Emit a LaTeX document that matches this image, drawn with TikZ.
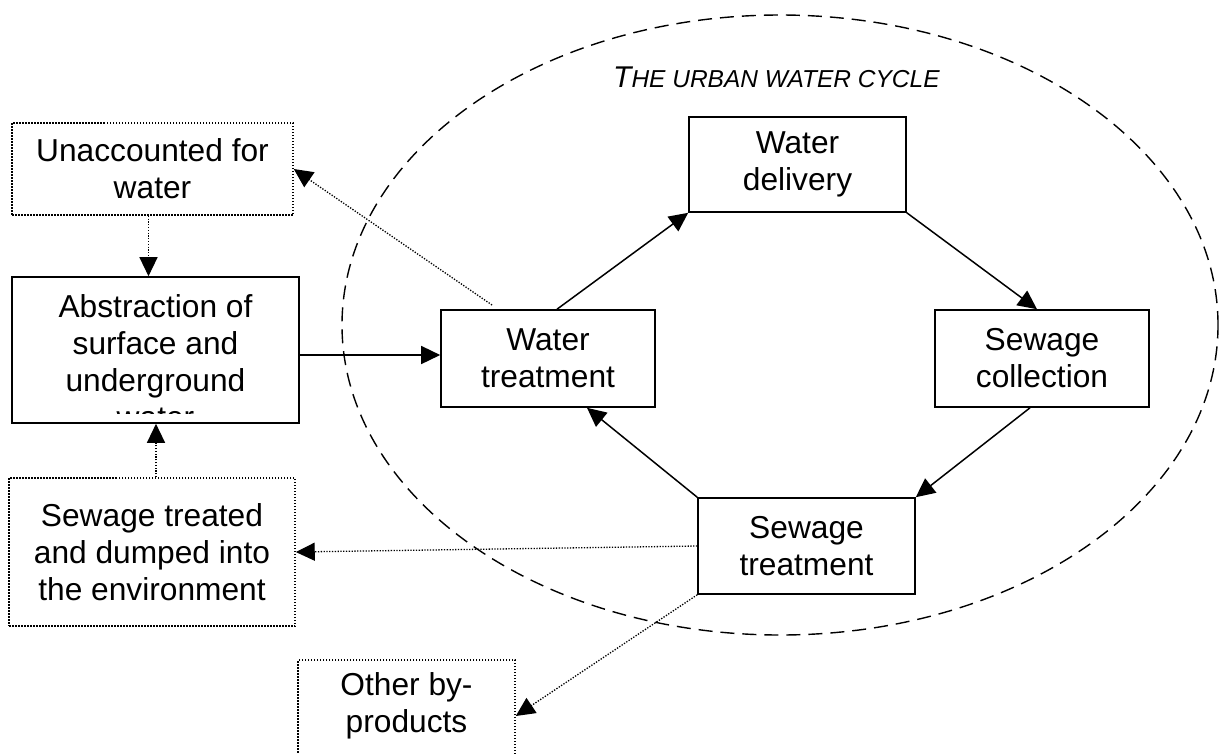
\documentclass[tikz,border=0pt]{standalone}
\usepackage{fontspec}
\setmainfont{Liberation Sans}
\usetikzlibrary{arrows.meta,shapes.geometric}
\begin{document}
\begin{tikzpicture}[x=1pt,y=-1pt,
  txt/.style={font=\fontsize{31.7}{37}\selectfont, align=center},
  box/.style={txt, draw, line width=1.6pt, inner sep=0pt},
  dbox/.style={txt, draw, line width=1.5pt, dash pattern=on 1.5pt off 1.5pt, inner sep=0pt},
  arr/.style={line width=1.5pt, -{Triangle[length=19pt,width=18pt]}},
  darr/.style={line width=1.3pt, dash pattern=on 1.3pt off 1.5pt, -{Triangle[length=19pt,width=18pt]}},
  ]
\clip (0,0) rectangle (1230,753);
\fill[white] (0,0) rectangle (1230,753);
% urban water cycle boundary
\node[ellipse, draw, line width=1.4pt, dash pattern=on 14pt off 8pt, inner sep=0pt,
      minimum width=876pt, minimum height=620pt] (cyc) at (780,325) {};
\node[anchor=base west, inner sep=0pt] (title) at (613,87)
  {\itshape\fontsize{30}{30}\selectfont T\fontsize{24.5}{24.5}\selectfont HE URBAN WATER CYCLE};
% cycle boxes
\node[box, minimum width=217pt, minimum height=95pt] (wd) at (797.5,164.5) {Water\\delivery};
\node[box, minimum width=214pt, minimum height=97pt] (wt) at (548,358.5) {Water\\treatment};
\node[box, minimum width=214pt, minimum height=97pt] (sc) at (1042,358.5) {Sewage\\collection};
\node[box, minimum width=217pt, minimum height=96pt] (st) at (806.5,546) {Sewage\\treatment};
% abstraction box (text clipped at bottom)
\begin{scope}
  \clip (12,277) rectangle (299,413);
  \node[txt, inner sep=0pt] (abst) at (155.5,362) {Abstraction of\\surface and\\underground\\water};
\end{scope}
\node[draw, line width=1.6pt, inner sep=0pt, minimum width=287pt, minimum height=146pt] (abs) at (155.5,350) {};
% outside boxes
\node[dbox, minimum width=281pt, minimum height=92pt] (un) at (152.5,169) {Unaccounted for\\water};
\node[dbox, minimum width=286pt, minimum height=148pt] (stt) at (152,552) {Sewage treated\\and dumped into\\the environment};
\node[dbox, minimum width=217pt, minimum height=120pt] (ob) at (406.5,720) {};
\node[txt, inner sep=0pt] (obt) at (406.5,706) {Other by-\\products};
% cycle connectors
\draw[arr] ([yshift=-5pt]abs.east) -- ([yshift=-5pt]abs.east -| wt.west);
\draw[arr] ([xshift=9pt]wt.north) -- (wd.south west);
\draw[arr] (wd.south east) -- ([xshift=-5pt]sc.north);
\draw[arr] ([xshift=-12pt]sc.south) -- (st.north east);
\draw[arr] (st.north west) -- ([xshift=39pt]wt.south);
% dotted connectors
\coordinate (u0) at (492,305);
\draw[darr] (u0) -- (un.east);
\draw[darr] ([xshift=-4pt]un.south) -- ([xshift=-4pt]un.south |- abs.north);
\draw[darr] ([xshift=4pt]stt.north) -- ([xshift=4pt]stt.north |- abs.south);
\draw[darr] (st.west) -- (stt.east);
\draw[darr] (st.south west) -- ([yshift=4pt]ob.east);
\end{tikzpicture}
\end{document}
